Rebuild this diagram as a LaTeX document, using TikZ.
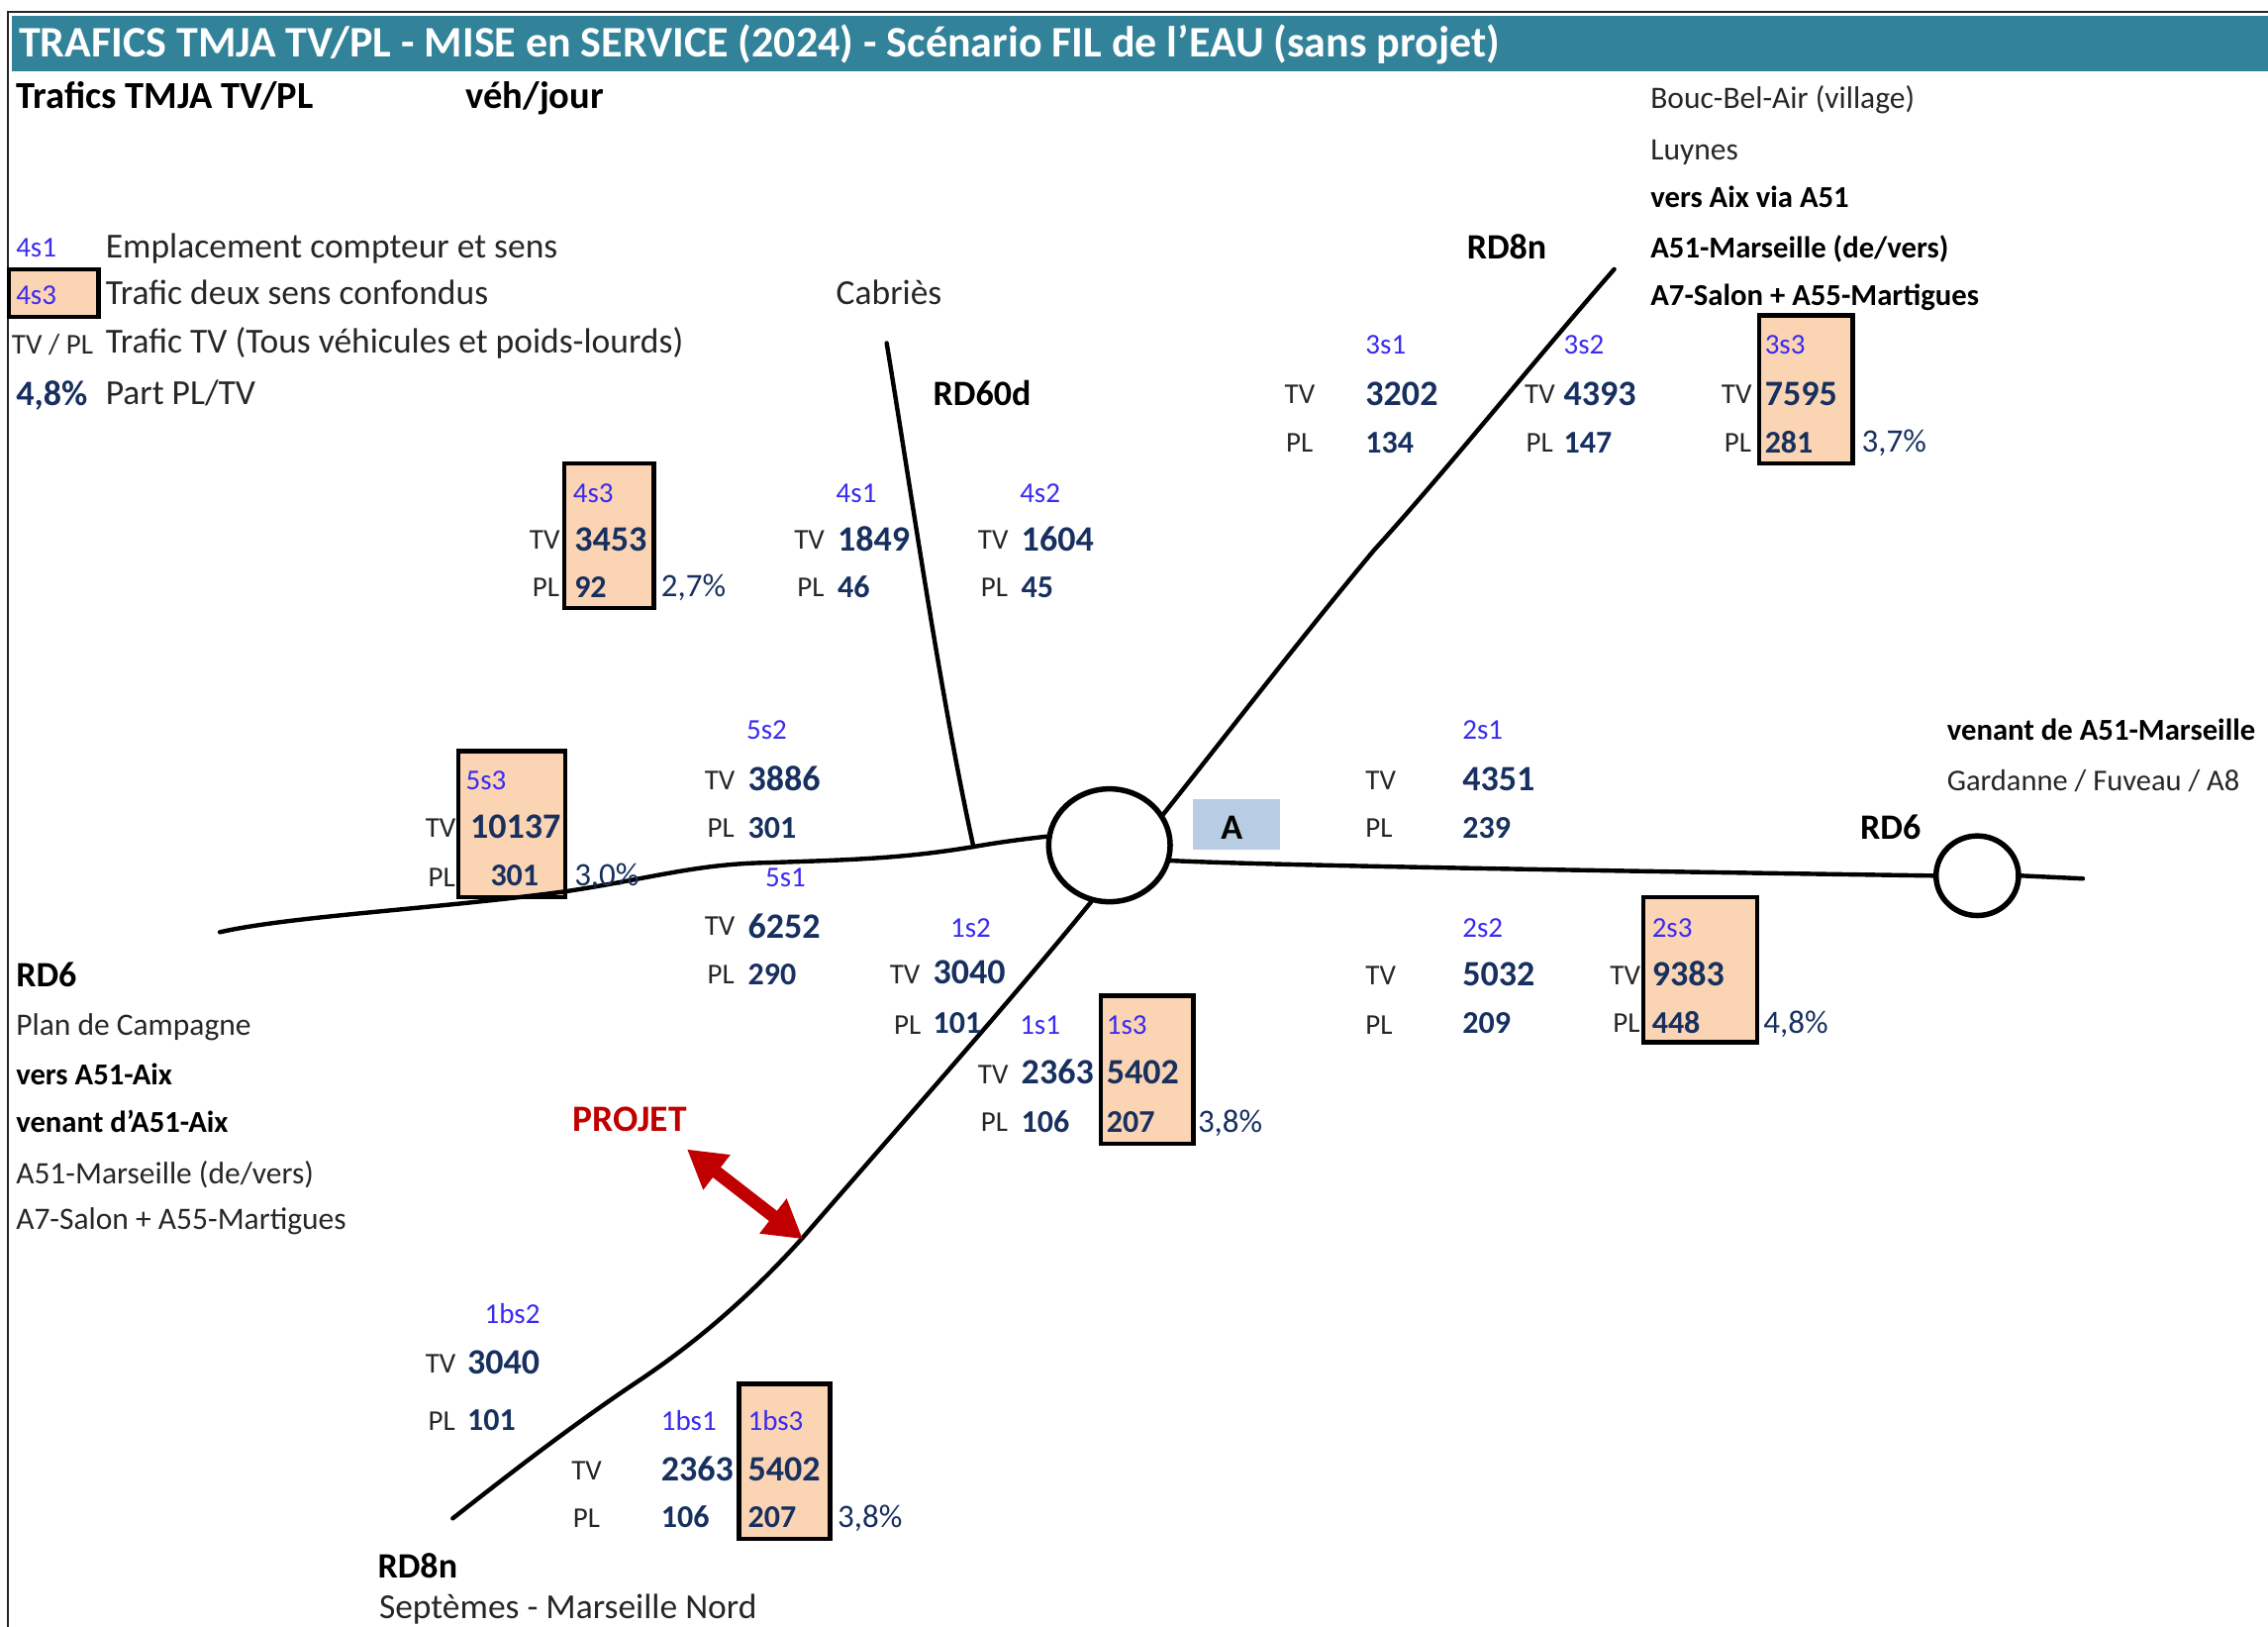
\documentclass[tikz,border=0pt]{standalone}
\usepackage{fontspec}
\setmainfont{Carlito}
\usetikzlibrary{shapes.geometric,arrows.meta}
\definecolor{teal}{HTML}{32829A}
\definecolor{peach}{HTML}{FBD4B4}
\definecolor{navy}{HTML}{17305F}
\definecolor{lblue}{HTML}{3A2BF0}
\definecolor{abox}{HTML}{B8CCE4}
\definecolor{projred}{HTML}{C00000}
\tikzset{
 x=1.4611pt,y=-1.4617pt,
 every node/.style={inner sep=0pt},
 tb/.style={anchor=base west,yshift=-10.5pt},
 txt/.style={tb,font=\fontsize{31.5}{34}\selectfont,text=black!85},
 leg/.style={tb,font=\fontsize{35.5}{38}\selectfont,text=black!85},
 bld/.style={tb,font=\fontsize{30.7}{33}\selectfont\bfseries,text=black},
 big/.style={tb,yshift=-2.5pt,font=\fontsize{36}{38}\selectfont\bfseries,text=black},
 hdr/.style={tb,yshift=-3pt,font=\fontsize{38.5}{40}\selectfont\bfseries,text=black},
 tag/.style={tb,yshift=1pt,font=\fontsize{29}{32}\selectfont,text=lblue},
 num/.style={tb,yshift=-1.2pt,font=\fontsize{36}{38}\selectfont\bfseries,text=navy},
 nums/.style={tb,font=\fontsize{32}{35}\selectfont\bfseries,text=navy},
 unit/.style={tb,yshift=1pt,font=\fontsize{29}{32}\selectfont,text=black!85},
 pct/.style={tb,font=\fontsize{33}{36}\selectfont,text=navy},
 peachbox/.style={draw=black,fill=peach,line width=4.4pt},
 road/.style={draw=black,line width=4.4pt,line cap=round},
 rbt/.style={ellipse,draw=black,fill=white,line width=5.5pt,anchor=center},
}
\begin{document}
\begin{tikzpicture}
\useasboundingbox (0,0) rectangle (1568,1124);
% frame and title
\coordinate (fa) at (5.5,1124); \coordinate (fb) at (5.5,8); \coordinate (fc) at (1568,8);
\draw[black!85,line width=2pt] (fa) -- (fb) -- (fc);
\path[fill=teal] (8,11) rectangle (1568,49);
\node[tb,yshift=-3.5pt,font=\fontsize{44}{46}\selectfont\bfseries,text=white] (title) at (13,30) {TRAFICS TMJA TV/PL - MISE en SERVICE (2024) - Scénario FIL de l'EAU (sans projet)};
% boxes
\path[peachbox] (6,186) rectangle (68,219);
\path[peachbox] (390,320) rectangle (452,420);
\path[peachbox] (317,519) rectangle (391,620);
\path[peachbox] (1216,218) rectangle (1281,320);
\path[peachbox] (1136,620) rectangle (1215,720);
\path[peachbox] (761,688) rectangle (825,790);
\path[peachbox] (511,956) rectangle (574,1063);
\path[fill=abox] (825,552) rectangle (885,587);
% roundabouts
\node[rbt,minimum width=84pt*1.4611,minimum height=78pt*1.4617] (ra) at (767,584) {};
\node[rbt,minimum width=57pt*1.4611,minimum height=55pt*1.4617] (rb) at (1367,605) {};
% roads
\coordinate (n8) at (1116,186);
\coordinate (s8) at (313,1049);
\coordinate (n60) at (613,237);
\coordinate (j60) at (673,585);
\coordinate (w6) at (152,644);
\coordinate (e6) at (1440,607);
\coordinate (pa) at (475,794);
\coordinate (pb) at (555,856);
\draw[road] (n8) .. controls (1060,250) and (1000,325) .. (950,380) .. controls (900,440) and (850,505) .. (ra.30);
\draw[road] (ra.252) .. controls (700,690) and (620,780) .. (555,855) .. controls (510,905) and (470,935) .. (440,955) .. controls (395,985) and (350,1020) .. (s8);
\draw[road] (n60) .. controls (630,340) and (650,480) .. (j60);
\draw[road] (w6) .. controls (200,633) and (300,628) .. (390,616) .. controls (450,607) and (480,597) .. (530,596) .. controls (590,594) and (625,593) .. (j60) .. controls (690,582) and (705,580) .. (ra.172);
\draw[road] (ra.-14) .. controls (860,597) and (1000,600) .. (rb.west);
\draw[road] (rb.east) -- (e6);
% project arrow
\draw[projred,line width=13pt,{Triangle[length=38pt,width=42pt]}-{Triangle[length=38pt,width=42pt]}] (pa) -- (pb);
\node[tb,yshift=-1pt,font=\fontsize{37.5}{40}\selectfont\bfseries,text=projred] (proj) at (396,774) {PROJET};
% headers and legend
\node[hdr] (h1) at (11,66) {Trafics TMJA TV/PL};
\node[hdr] (h2) at (322,66) {véh/jour};
\node[tag] (l1) at (11,171) {4s1};
\node[leg] (l1t) at (73,171) {Emplacement compteur et sens};
\node[tag] (l2) at (11,204) {4s3};
\node[leg] (l2t) at (73,203) {Trafic deux sens confondus};
\node[unit] (l3) at (8,238) {TV / PL};
\node[leg] (l3t) at (73,237) {Trafic TV (Tous véhicules et poids-lourds)};
\node[num] (l4) at (11,272) {4,8\%};
\node[leg] (l4t) at (73,272) {Part PL/TV};
% places
\node[txt] (p1) at (1141,68) {Bouc-Bel-Air (village)};
\node[txt] (p2) at (1141,103) {Luynes};
\node[bld] (p3) at (1141,136) {vers Aix via A51};
\node[bld] (p4) at (1141,171) {A51-Marseille (de/vers)};
\node[bld] (p5) at (1141,204) {A7-Salon + A55-Martigues};
\node[big] (rd8n) at (1014,170) {RD8n};
\node[leg] (cab) at (578,203) {Cabriès};
\node[big] (rd60) at (645,271) {RD60d};
\node[bld] (q1) at (1346,504) {venant de A51-Marseille};
\node[txt,font=\fontsize{30.5}{33}\selectfont] (q2) at (1346,539) {Gardanne / Fuveau / A8};
\node[big] (rd6e) at (1286,571) {RD6};
\node[big] (blocA) at (844,571) {A};
\node[big] (rd6w) at (11,673) {RD6};
\node[txt] (w1) at (11,708) {Plan de Campagne};
\node[bld] (w2) at (11,742) {vers A51-Aix};
\node[bld] (w3) at (11,775) {venant d'A51-Aix};
\node[txt] (w4) at (11,811) {A51-Marseille (de/vers)};
\node[txt] (w5) at (11,842) {A7-Salon + A55-Martigues};
\node[big] (rd8s) at (261,1081) {RD8n};
\node[leg] (sep) at (262,1111) {Septèmes - Marseille Nord};
% 3s
\node[tag] at (944,238) (a1) {3s1};
\node[unit] at (888,272) (a2) {TV};
\node[num] at (944,272) (a3) {3202};
\node[unit] at (889,306) (a4) {PL};
\node[nums] at (944,306) (a5) {134};
\node[tag] at (1081,238) (b1) {3s2};
\node[unit] at (1054,272) (b2) {TV};
\node[num] at (1081,272) (b3) {4393};
\node[unit] at (1055,306) (b4) {PL};
\node[nums] at (1081,306) (b5) {147};
\node[tag] at (1220,238) (c1) {3s3};
\node[unit] at (1190,272) (c2) {TV};
\node[num] at (1220,272) (c3) {7595};
\node[unit] at (1192,306) (c4) {PL};
\node[nums] at (1220,306) (c5) {281};
\node[pct] at (1287,305) (c6) {3,7\%};
% 4s
\node[tag] at (396,341) (d1) {4s3};
\node[unit] at (366,373) (d2) {TV};
\node[num] at (397,373) (d3) {3453};
\node[unit] at (368,406) (d4) {PL};
\node[nums] at (397,406) (d5) {92};
\node[pct] at (457,405) (d6) {2,7\%};
\node[tag] at (578,341) (e1) {4s1};
\node[unit] at (549,373) (e2) {TV};
\node[num] at (579,373) (e3) {1849};
\node[unit] at (551,406) (e4) {PL};
\node[nums] at (579,406) (e5) {46};
\node[tag] at (705,341) (f1) {4s2};
\node[unit] at (676,373) (f2) {TV};
\node[num] at (706,373) (f3) {1604};
\node[unit] at (678,406) (f4) {PL};
\node[nums] at (706,406) (f5) {45};
% 5s
\node[tag] at (516,504) (g1) {5s2};
\node[unit] at (487,539) (g2) {TV};
\node[num] at (517,538) (g3) {3886};
\node[unit] at (489,572) (g4) {PL};
\node[nums] at (517,572) (g5) {301};
\node[tag] at (322,539) (h1b) {5s3};
\node[unit] at (294,572) (h2b) {TV};
\node[num] at (325,571) (h3) {10137};
\node[unit] at (296,606) (h4) {PL};
\node[nums] at (339,605) (h5) {301};
\node[pct] at (397,605) (h6) {3,0\%};
\node[tag] at (529,606) (i1) {5s1};
\node[unit] at (487,640) (i2) {TV};
\node[num] at (517,640) (i3) {6252};
\node[unit] at (489,673) (i4) {PL};
\node[nums] at (517,673) (i5) {290};
% 2s
\node[tag] at (1011,504) (j1) {2s1};
\node[unit] at (944,539) (j2) {TV};
\node[num] at (1011,538) (j3) {4351};
\node[unit] at (944,572) (j4) {PL};
\node[nums] at (1011,572) (j5) {239};
\node[tag] at (1011,641) (k1) {2s2};
\node[unit] at (944,674) (k2) {TV};
\node[num] at (1011,673) (k3) {5032};
\node[unit] at (944,708) (k4) {PL};
\node[nums] at (1011,707) (k5) {209};
\node[tag] at (1142,641) (m1) {2s3};
\node[unit] at (1113,674) (m2) {TV};
\node[num] at (1142,673) (m3) {9383};
\node[unit] at (1115,707) (m4) {PL};
\node[nums] at (1142,707) (m5) {448};
\node[pct] at (1219,707) (m6) {4,8\%};
% 1s
\node[tag] at (657,641) (o1) {1s2};
\node[unit] at (615,673) (o2) {TV};
\node[num] at (645,672) (o3) {3040};
\node[unit] at (618,708) (o4) {PL};
\node[nums] at (645,707) (o5) {101};
\node[tag] at (705,708) (r1) {1s1};
\node[unit] at (676,742) (r2) {TV};
\node[num] at (706,741) (r3) {2363};
\node[unit] at (678,775) (r4) {PL};
\node[nums] at (706,775) (r5) {106};
\node[tag] at (765,708) (s1) {1s3};
\node[num] at (765,741) (s3) {5402};
\node[nums] at (765,775) (s5) {207};
\node[pct] at (828,775) (s6) {3,8\%};
% 1bs
\node[tag] at (335,908) (t1) {1bs2};
\node[unit] at (294,942) (t2) {TV};
\node[num] at (323,941) (t3) {3040};
\node[unit] at (296,982) (t4) {PL};
\node[nums] at (323,981) (t5) {101};
\node[tag] at (457,982) (u1) {1bs1};
\node[unit] at (395,1016) (u2) {TV};
\node[num] at (457,1015) (u3) {2363};
\node[unit] at (396,1049) (u4) {PL};
\node[nums] at (457,1048) (u5) {106};
\node[tag] at (517,982) (v1) {1bs3};
\node[num] at (517,1015) (v3) {5402};
\node[nums] at (517,1048) (v5) {207};
\node[pct] at (579,1048) (v6) {3,8\%};
\end{tikzpicture}
\end{document}
